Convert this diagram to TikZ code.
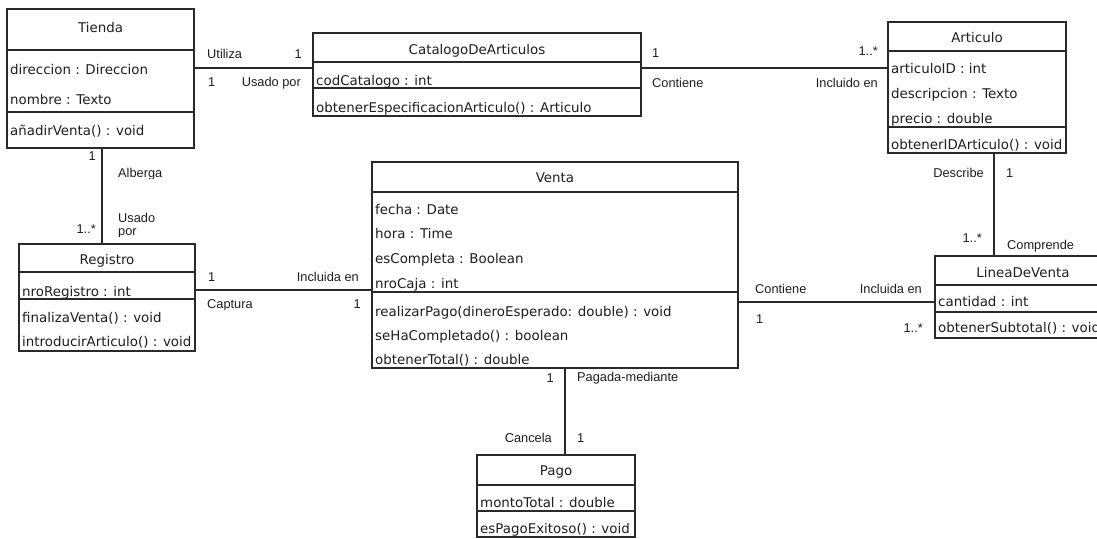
\documentclass[tikz,border=0pt]{standalone}
\usepackage{fontspec}
\setmainfont{Liberation Sans}
\newfontfamily\classfont{DejaVu Sans}
\definecolor{linegray}{HTML}{2A2A2A}
\definecolor{textgray}{HTML}{1E1E1E}
\begin{document}
\begin{tikzpicture}[x=1pt,y=-1pt,
  classbox/.style={draw=linegray, line width=1.3pt, rectangle, anchor=north west,
                   inner sep=0pt, outer sep=0pt},
  member/.style={anchor=base west, inner sep=0pt, text=textgray,
                 font=\classfont\fontsize{13.4}{16}\selectfont},
  classname/.style={anchor=base, inner sep=0pt, text=textgray,
                 font=\classfont\fontsize{13.4}{16}\selectfont},
  rolel/.style={anchor=base west, inner sep=0pt, text=textgray,
                font=\fontsize{12.8}{15}\selectfont},
  roler/.style={anchor=base east, inner sep=0pt, text=textgray,
                font=\fontsize{12.8}{15}\selectfont},
  assoc/.style={draw=linegray, line width=1.3pt}]
\useasboundingbox (0,0) rectangle (1097,538);
\clip (0,0) rectangle (1097,538);

% levels of the association lines
\coordinate (ytop) at (0,68);
\coordinate (yreg) at (0,290);
\coordinate (ylin) at (0,302);
\coordinate (xtr) at (102,0);
\coordinate (xal) at (994,0);
\coordinate (xvp) at (565,0);

% ---------------- Tienda
\node[classbox, minimum width=187pt, minimum height=139pt] (tienda) at (7,9) {};
\draw[assoc] (tienda.west |- 0,50) -- (tienda.east |- 0,50);
\draw[assoc] (tienda.west |- 0,112) -- (tienda.east |- 0,112);
\node[classname] (tienda-n) at (tienda.north |- 0,32) {Tienda};
\node[member] (tienda-a1) at (10,74) {direccion : Direccion};
\node[member] (tienda-a2) at (10,104) {nombre : Texto};
\node[member] (tienda-m1) at (10,135) {añadirVenta() : void};

% ---------------- CatalogoDeArticulos
\node[classbox, minimum width=328pt, minimum height=83pt] (catalogo) at (313,33) {};
\draw[assoc] (catalogo.west |- 0,62) -- (catalogo.east |- 0,62);
\draw[assoc] (catalogo.west |- 0,88) -- (catalogo.east |- 0,88);
\node[classname] (catalogo-n) at (catalogo.north |- 0,54) {CatalogoDeArticulos};
\node[member] (catalogo-a1) at (316,85) {codCatalogo : int};
\node[member] (catalogo-m1) at (316,112) {obtenerEspecificacionArticulo() : Articulo};

% ---------------- Articulo
\node[classbox, minimum width=178pt, minimum height=131pt] (articulo) at (888,22) {};
\draw[assoc] (articulo.west |- 0,51) -- (articulo.east |- 0,51);
\draw[assoc] (articulo.west |- 0,127) -- (articulo.east |- 0,127);
\node[classname] (articulo-n) at (articulo.north |- 0,42) {Articulo};
\node[member] (articulo-a1) at (891,73) {articuloID : int};
\node[member] (articulo-a2) at (891,98) {descripcion : Texto};
\node[member] (articulo-a3) at (891,123) {precio : double};
\node[member] (articulo-m1) at (891,149) {obtenerIDArticulo() : void};

% ---------------- Venta
\node[classbox, minimum width=366pt, minimum height=206pt] (venta) at (372,162) {};
\draw[assoc] (venta.west |- 0,192) -- (venta.east |- 0,192);
\draw[assoc] (venta.west |- 0,292) -- (venta.east |- 0,292);
\node[classname] (venta-n) at (venta.north |- 0,182) {Venta};
\node[member] (venta-a1) at (375,214) {fecha : Date};
\node[member] (venta-a2) at (375,238) {hora : Time};
\node[member] (venta-a3) at (375,263) {esCompleta : Boolean};
\node[member] (venta-a4) at (375,288) {nroCaja : int};
\node[member] (venta-m1) at (375,316) {realizarPago(dineroEsperado: double) : void};
\node[member] (venta-m2) at (375,340) {seHaCompletado() : boolean};
\node[member] (venta-m3) at (375,364) {obtenerTotal() : double};

% ---------------- Registro
\node[classbox, minimum width=176pt, minimum height=107pt] (registro) at (19,244) {};
\draw[assoc] (registro.west |- 0,272) -- (registro.east |- 0,272);
\draw[assoc] (registro.west |- 0,299) -- (registro.east |- 0,299);
\node[classname] (registro-n) at (registro.north |- 0,264) {Registro};
\node[member] (registro-a1) at (22,296) {nroRegistro : int};
\node[member] (registro-m1) at (22,322) {finalizaVenta() : void};
\node[member] (registro-m2) at (22,346) {introducirArticulo() : void};

% ---------------- LineaDeVenta (runs past the right margin)
\node[classbox, minimum width=176pt, minimum height=82pt] (linea) at (935,256) {};
\draw[assoc] (linea.west |- 0,285) -- (linea.east |- 0,285);
\draw[assoc] (linea.west |- 0,312) -- (linea.east |- 0,312);
\node[classname] (linea-n) at (linea.north |- 0,277) {LineaDeVenta};
\node[member] (linea-a1) at (938,306) {cantidad : int};
\node[member] (linea-m1) at (938,332) {obtenerSubtotal() : void};

% ---------------- Pago
\node[classbox, minimum width=158pt, minimum height=82pt] (pago) at (477,455) {};
\draw[assoc] (pago.west |- 0,485) -- (pago.east |- 0,485);
\draw[assoc] (pago.west |- 0,511) -- (pago.east |- 0,511);
\node[classname] (pago-n) at (pago.north |- 0,475) {Pago};
\node[member] (pago-a1) at (480,507) {montoTotal : double};
\node[member] (pago-m1) at (480,533) {esPagoExitoso() : void};

% ---------------- associations
\draw[assoc] (tienda.east |- ytop) -- (catalogo.west |- ytop);
\draw[assoc] (catalogo.east |- ytop) -- (articulo.west |- ytop);
\draw[assoc] (tienda.south -| xtr) -- (registro.north -| xtr);
\draw[assoc] (registro.east |- yreg) -- (venta.west |- yreg);
\draw[assoc] (venta.east |- ylin) -- (linea.west |- ylin);
\draw[assoc] (articulo.south -| xal) -- (linea.north -| xal);
\draw[assoc] (venta.south -| xvp) -- (pago.north -| xvp);

% Tienda - CatalogoDeArticulos
\node[rolel] (l-utiliza) at (207,58) {Utiliza};
\node[roler] (l-utiliza-m) at (302,58) {1};
\node[rolel] (l-usado-m) at (208,86) {1};
\node[roler] (l-usado) at (301,86) {Usado\hspace{3.5pt}por};

% CatalogoDeArticulos - Articulo
\node[rolel] (l-contiene-m) at (652,57) {1};
\node[rolel] (l-contiene) at (652,87) {Contiene};
\node[roler] (l-incluido-m) at (878,55) {1..*};
\node[roler] (l-incluido) at (878,87) {Incluido en};

% Tienda - Registro
\node[roler] (l-alberga-m) at (96,160) {1};
\begin{scope}
  \clip (110,160) rectangle (180,178);
  \node[rolel] (l-alberga) at (118,177) {Alberga};
\end{scope}
\node[rolel] (l-usadop) at (118,222) {Usado};
\begin{scope}
  \clip (110,224) rectangle (180,236);
  \node[rolel] (l-usadop2) at (118,235) {por};
\end{scope}
\node[roler] (l-usadop-m) at (96,233) {1..*};

% Registro - Venta
\node[rolel] (l-incluida-m) at (208,281) {1};
\node[roler] (l-incluida) at (359,281) {Incluida en};
\begin{scope}
  \clip (200,294) rectangle (270,309);
  \node[rolel] (l-captura) at (207,308) {Captura};
\end{scope}
\node[roler] (l-captura-m) at (361,308) {1};

% Venta - LineaDeVenta
\node[rolel] (l-contiene2) at (755,293) {Contiene};
\node[rolel] (l-contiene2-m) at (756,323) {1};
\node[roler] (l-incluida2) at (922,293) {Incluida en};
\node[roler] (l-incluida2-m) at (923,332) {1..*};

% Articulo - LineaDeVenta
\node[roler] (l-describe) at (984,177) {Describe};
\node[rolel] (l-describe-m) at (1006,177) {1};
\node[roler] (l-comprende-m) at (982,242) {1..*};
\node[rolel] (l-comprende) at (1007,249) {Comprende};

% Venta - Pago
\node[roler] (l-pagada-m) at (554,382) {1};
\node[rolel] (l-pagada) at (577,381) {Pagada-mediante};
\node[roler] (l-cancela) at (552,442) {Cancela};
\node[rolel] (l-cancela-m) at (577,442) {1};
\end{tikzpicture}
\end{document}
